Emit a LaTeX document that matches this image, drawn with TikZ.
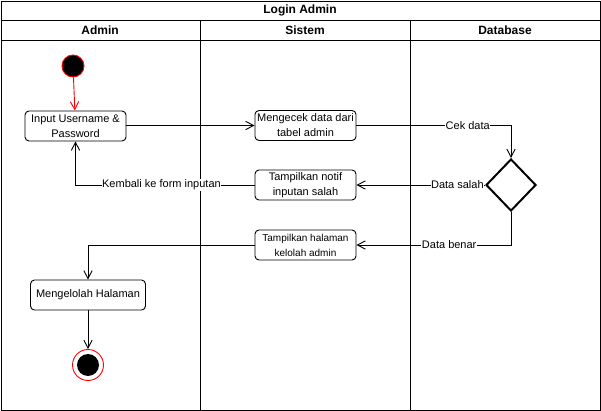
\documentclass[tikz,border=0pt]{standalone}
\usepackage{fontspec}
\setmainfont{Liberation Sans}
\usetikzlibrary{arrows.meta,shapes.geometric}
\begin{document}
\begin{tikzpicture}[x=1pt,y=-1pt,
  lane/.style={draw=black,line width=0.9pt},
  act/.style={draw=black,rounded corners=4pt,line width=0.9pt,minimum width=101pt,minimum height=30pt,inner sep=0.5pt,align=center,font=\fontsize{11}{15}\selectfont},
  flow/.style={draw=black,line width=0.9pt,-{Straight Barb[angle=55:9pt,line width=0.9pt]}},
  lbl/.style={fill=white,inner sep=0.5pt,font=\fontsize{11}{12}\selectfont},
  hdr/.style={font=\fontsize{12}{13}\selectfont\bfseries}]
\useasboundingbox (0,0) rectangle (601,411);
\draw[lane] (1,1) rectangle (600,410);
\draw[lane] (1,20) -- (600,20);
\draw[lane] (1,40) -- (600,40);
\draw[lane] (200,20) -- (200,410);
\draw[lane] (410,20) -- (410,410);
\node[hdr] (title) at (300,10.5) {Login Admin};
\node[hdr] (hadmin) at (100,30.5) {Admin};
\node[hdr] (hsistem) at (305,30.5) {Sistem};
\node[hdr] (hdb) at (505,30.5) {Database};

\node[circle,draw=red,fill=black,minimum size=22pt,inner sep=0pt,line width=0.9pt] (start) at (73,66) {};
\node[act] (input) at (75.5,126) {Input Username \&\\Password};
\node[act] (cek) at (305.5,125.5) {Mengecek data dari\\tabel admin};
\node[act] (notif) at (305.5,185) {Tampilkan notif\\inputan salah};
\node[act,font=\fontsize{10}{15}\selectfont] (hal) at (305.5,245) {Tampilkan halaman\\kelolah admin};
\node[diamond,draw=black,line width=2pt,minimum width=50pt,minimum height=52pt,inner sep=0pt] (dec) at (511,185) {};
\node[act,minimum width=115pt] (kelola) at (88,295) {Mengelolah Halaman};
\node[circle,draw=red,fill=white,minimum size=31pt,inner sep=0pt,line width=0.9pt] (end) at (88,365) {};
\node[circle,fill=black,minimum size=22pt,inner sep=0pt] (endin) at (88,365) {};

\draw[flow,draw=red,-{Straight Barb[angle=55:9pt,line width=0.9pt,red]}] (start) -- (input);
\draw[flow] (input.east |- cek.west) -- (cek.west);
\draw[flow] (cek.east) -| node[lbl,pos=0.36] {Cek data} (dec.north);
\draw[flow] (dec.west) -- node[lbl,pos=0.215] {Data salah} (notif.east);
\draw[flow] (dec.south) |- node[lbl,pos=0.70] {Data benar} (hal.east);
\draw[flow] (notif.west) -| node[lbl,pos=0.26] {Kembali ke form inputan} (input.south);
\draw[flow] (hal.west) -| (kelola.north);
\draw[flow] (kelola) -- (end);
\end{tikzpicture}
\end{document}
